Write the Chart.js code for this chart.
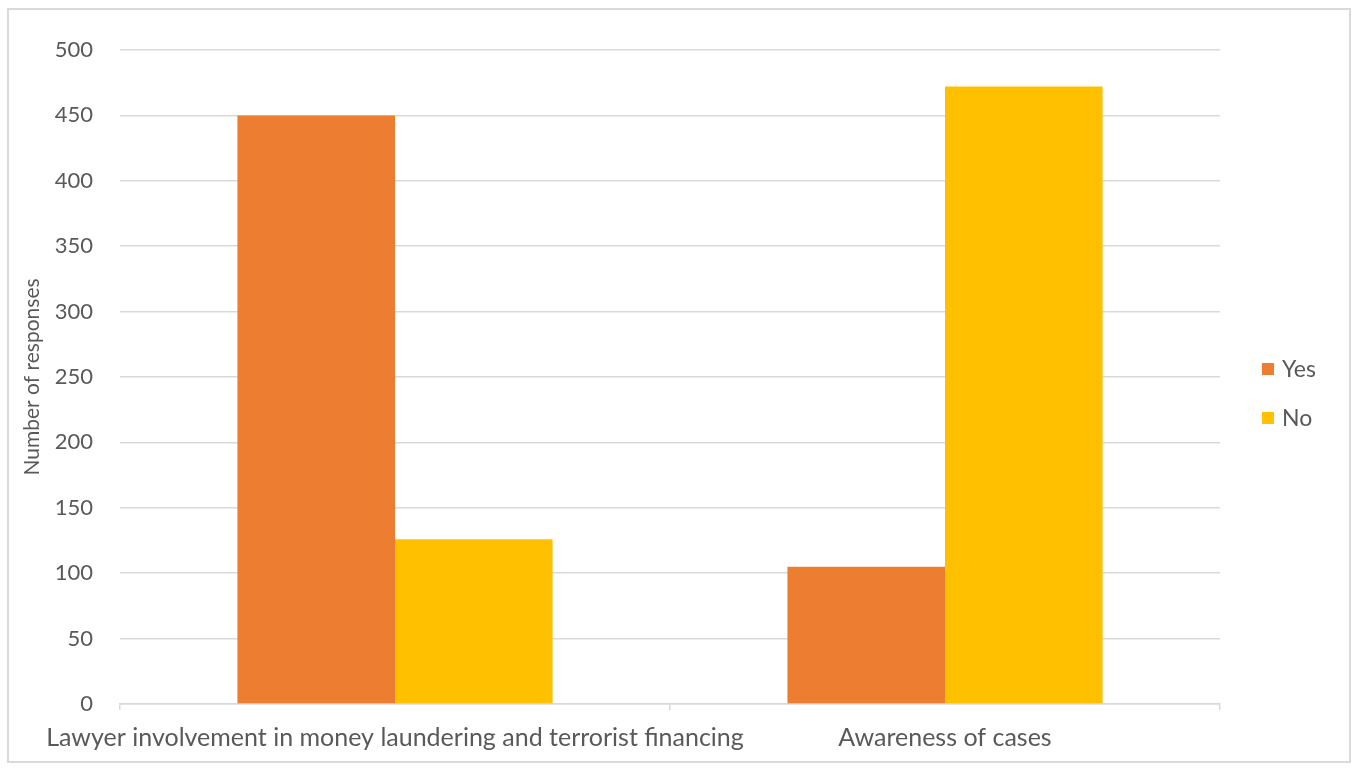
<!DOCTYPE html>
<html>
<head>
<meta charset="utf-8">
<script src="https://cdn.jsdelivr.net/npm/chart.js@4.4.1/dist/chart.umd.min.js"></script>
<style>
  html, body { margin: 0; padding: 0; background: #ffffff; }
  #wrap { width: 1360px; height: 772px; position: relative; }
</style>
</head>
<body>
<div id="wrap"><canvas id="c" width="1360" height="772"></canvas></div>
<script>
// Survey responses per question
const categories = ['Lawyer involvement in money laundering and terrorist financing', 'Awareness of cases'];
const seriesNames = ['Yes', 'No'];
const yesValues = [450, 105];
const noValues = [126, 472];
const seriesColors = ['#ED7D31', '#FFC000'];
const yTicks = [0, 50, 100, 150, 200, 250, 300, 350, 400, 450, 500];

const FONT = 'Lato, "Open Sans", sans-serif';
const TEXT = '#595959';
const GRID = '#d9d9d9';

// Outer frame and white background
const framePlugin = {
  id: 'frame',
  beforeDraw(chart) {
    const ctx = chart.ctx;
    ctx.save();
    ctx.fillStyle = '#ffffff';
    ctx.fillRect(0, 0, chart.width, chart.height);
    ctx.strokeStyle = GRID;
    ctx.lineWidth = 2;
    ctx.strokeRect(8, 9, 1342, 753);
    ctx.restore();
  }
};

// Legend on the right, drawn from the dataset styles
const sideLegend = {
  id: 'sideLegend',
  afterDraw(chart) {
    const ctx = chart.ctx;
    const x = chart.chartArea.right + 42;
    const y0 = 369, gap = 49;
    ctx.save();
    ctx.font = '23px ' + FONT;
    ctx.textBaseline = 'middle';
    chart.data.datasets.forEach((ds, i) => {
      const y = y0 + i * gap;
      ctx.fillStyle = ds.backgroundColor;
      ctx.fillRect(x, y - 6, 12, 12);
      ctx.fillStyle = TEXT;
      ctx.fillText(ds.label, x + 20, y + 1);
    });
    ctx.restore();
  }
};

new Chart(document.getElementById('c'), {
  type: 'bar',
  data: {
    labels: categories,
    datasets: [
      { label: seriesNames[0], data: yesValues, backgroundColor: seriesColors[0] },
      { label: seriesNames[1], data: noValues, backgroundColor: seriesColors[1] }
    ]
  },
  options: {
    responsive: false,
    animation: false,
    devicePixelRatio: 1,
    layout: { padding: { left: 14, right: 140, top: 50, bottom: 12 } },
    datasets: { bar: { categoryPercentage: 0.573, barPercentage: 1.0 } },
    plugins: {
      legend: { display: false },
      tooltip: { enabled: false }
    },
    scales: {
      x: {
        grid: { display: true, offset: true, drawOnChartArea: false, drawTicks: true, tickLength: 6, color: GRID, lineWidth: 1.5 },
        border: { display: true, color: GRID, width: 1.5 },
        ticks: { color: TEXT, font: { family: FONT, size: 25 }, padding: 13, maxRotation: 0, autoSkip: false },
        afterFit(scale) { scale.height = 772 - 12 - 704; }
      },
      y: {
        min: 0,
        max: 500,
        afterBuildTicks(scale) { scale.ticks = yTicks.map(v => ({ value: v })); },
        grid: { color: GRID, lineWidth: 1.5, drawTicks: false },
        border: { display: false },
        ticks: { color: TEXT, font: { family: FONT, size: 22 }, padding: 27 },
        title: { display: true, text: 'Number of responses', color: TEXT, font: { family: FONT, size: 21 }, padding: { top: 6, bottom: 0 } },
        afterFit(scale) { scale.width = 120 - 14; }
      }
    }
  },
  plugins: [framePlugin, sideLegend]
});
</script>
</body>
</html>
